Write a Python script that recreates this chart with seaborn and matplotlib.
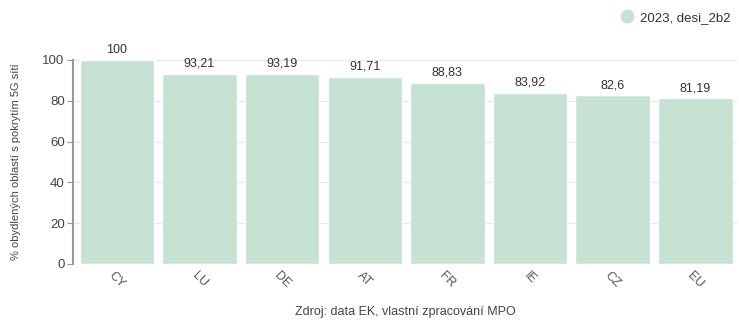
import matplotlib
matplotlib.use("Agg")
import matplotlib.pyplot as plt
import seaborn as sns
import pandas as pd
from matplotlib.lines import Line2D

countries = ["CY", "LU", "DE", "AT", "FR", "IE", "CZ", "EU"]
values = [100, 93.21, 93.19, 91.71, 88.83, 83.92, 82.6, 81.19]
labels = ["100", "93,21", "93,19", "91,71", "88,83", "83,92", "82,6", "81,19"]
series_name = "2023, desi_2b2"
yticks = [0, 20, 40, 60, 80, 100]

sns.set_style("white")
plt.rcParams['font.family'] = ['Liberation Sans', 'DejaVu Sans']

color = "#c6e2d3"
df = pd.DataFrame({"country": countries, "value": values})

fig = plt.figure(figsize=(7.39, 3.2), dpi=100)
ax = fig.add_axes([0.0988, 0.175, 0.898, 0.6375])
sns.barplot(data=df, x="country", y="value", color=color, width=0.9,
            saturation=1, ax=ax, zorder=2)
ax.set_xlim(-0.53, len(countries) - 0.5)
ax.set_ylim(0, 100)
ax.set_yticks(yticks)
ax.set_yticklabels([str(t) for t in yticks], fontsize=9.5, color="#444444")
ax.grid(axis="y", color="#e6e6e6", linewidth=0.8, zorder=0)
ax.set_axisbelow(True)
for s in ["top", "right", "bottom"]:
    ax.spines[s].set_visible(False)
ax.spines["left"].set_color("#999999")
ax.spines["left"].set_linewidth(1.5)
ax.tick_params(axis="y", length=4, color="#999999", left=True, pad=2)
ax.tick_params(axis="x", length=0, pad=4)
ax.set_xticks(range(len(countries)))
ax.set_xticklabels(countries, rotation=-45, fontsize=9, color="#555555",
                   ha="center", va="top")
for i, (v, lab) in enumerate(zip(values, labels)):
    ax.text(i, v + 2, lab, ha="center", va="bottom", fontsize=9, color="#333333")
ax.set_xlabel("")
fig.text(0.548, 0.025, "Zdroj: data EK, vlastní zpracování MPO", fontsize=9,
         color="#444444", ha="center", va="center")
ax.set_ylabel("% obydlených oblastí s pokrytím 5G sítí", fontsize=8,
              color="#444444", labelpad=12)
ax.yaxis.set_label_coords(-0.078, 0.5)
handle = Line2D([0], [0], marker="o", linestyle="none", markersize=9,
                markerfacecolor=color, markeredgecolor=color)
fig.legend([handle], [series_name], loc="center right", bbox_to_anchor=(1.005, 0.944),
           frameon=False, fontsize=9.5, handletextpad=0.0, labelcolor="#333333")
fig.savefig("out.png", dpi=100)
